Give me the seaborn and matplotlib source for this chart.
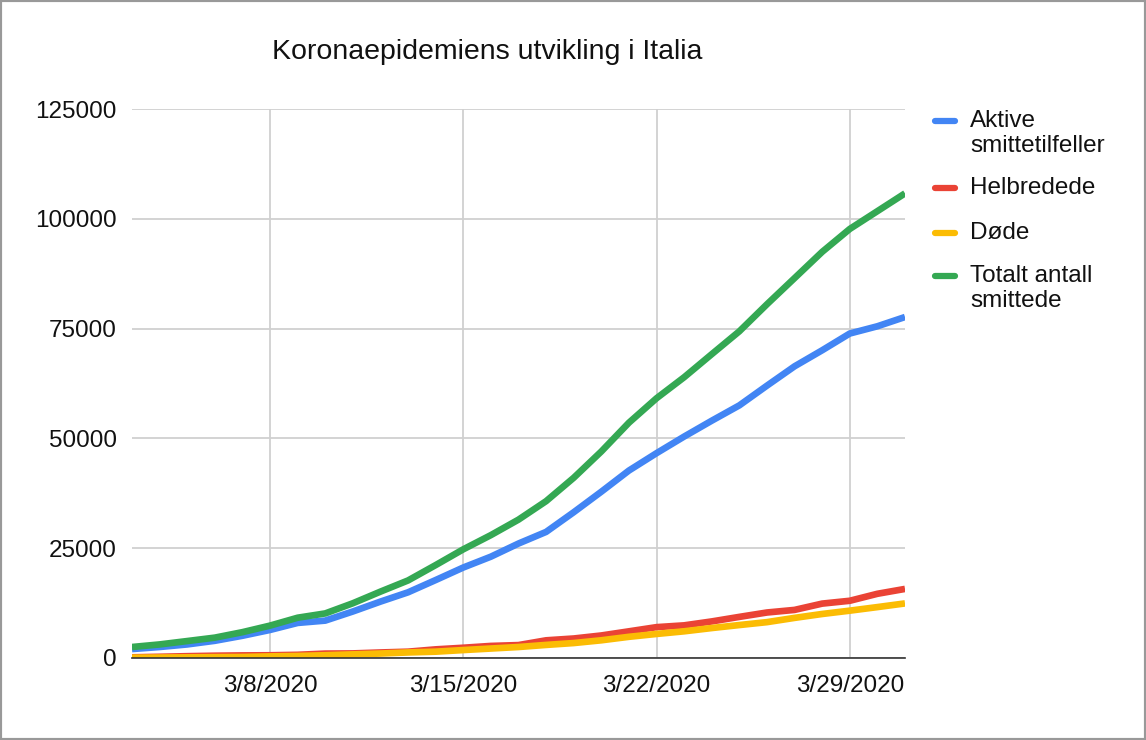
import pandas as pd
import numpy as np
import seaborn as sns
import matplotlib.pyplot as plt
import matplotlib.dates as mdates
from matplotlib.patches import Rectangle

# Data: Italia, 3. - 31. mars 2020
dates = pd.date_range('2020-03-03', '2020-03-31', freq='D')
aktive = [2036, 2502, 3089, 3916, 5061, 6387, 7985, 8514, 10590, 12839,
          14955, 17750, 20603, 23073, 26062, 28710, 33190, 37860, 42681, 46638,
          50418, 54030, 57521, 62013, 66414, 70065, 73880, 75528, 77635]
helbredede = [160, 276, 414, 523, 589, 622, 724, 1004, 1045, 1258,
              1439, 1966, 2335, 2749, 2941, 4025, 4440, 5129, 6072, 7024,
              7432, 8326, 9362, 10361, 10950, 12384, 13030, 14620, 15729]
dode = [79, 107, 148, 197, 233, 366, 463, 631, 827, 1016,
        1266, 1441, 1809, 2158, 2503, 2978, 3405, 4032, 4825, 5476,
        6077, 6820, 7503, 8165, 9134, 10023, 10779, 11591, 12428]
totalt = [2502, 3089, 3858, 4636, 5883, 7375, 9172, 10149, 12462, 15113,
          17660, 21157, 24747, 27980, 31506, 35713, 41035, 47021, 53578, 59138,
          63927, 69176, 74386, 80539, 86498, 92472, 97689, 101739, 105792]

series_names = ['Aktive smittetilfeller', 'Helbredede', 'Døde', 'Totalt antall smittede']
legend_lines = [['Aktive', 'smittetilfeller'], ['Helbredede'], ['Døde'], ['Totalt antall', 'smittede']]
colors = ['#4285F4', '#EA4335', '#FBBC04', '#34A853']

df = pd.DataFrame({'Dato': dates,
                   series_names[0]: aktive,
                   series_names[1]: helbredede,
                   series_names[2]: dode,
                   series_names[3]: totalt})
long_df = df.melt(id_vars='Dato', var_name='Serie', value_name='Antall')

sns.set_style('white')
plt.rcParams['font.family'] = ['Liberation Sans', 'DejaVu Sans']

W, H = 1146, 740
fig = plt.figure(figsize=(W / 100, H / 100), dpi=100)
ax = fig.add_axes([132 / W, 1 - 658 / H, (905 - 132) / W, (658 - 109) / H])

sns.lineplot(data=long_df, x='Dato', y='Antall', hue='Serie',
             hue_order=series_names, palette=colors, linewidth=4.8,
             ax=ax, legend=False, solid_capstyle='butt')

ax.set_xlim(dates[0], dates[-1])
ax.set_ylim(0, 125000)
ax.set_yticks(np.arange(0, 125001, 25000))
ax.set_yticklabels([str(v) for v in range(0, 125001, 25000)])
ax.xaxis.set_major_locator(mdates.DayLocator(bymonthday=[8, 15, 22, 29]))
ax.xaxis.set_major_formatter(mdates.DateFormatter('%-m/%-d/%Y'))
ax.set_xlabel('')
ax.set_ylabel('')
ax.grid(True, color='#d0d0d0', linewidth=1.3)
ax.set_axisbelow(True)
for side in ['top', 'right', 'left']:
    ax.spines[side].set_visible(False)
ax.spines['bottom'].set_color('#333333')
ax.spines['bottom'].set_linewidth(1.2)
ax.tick_params(axis='both', length=0, labelsize=17.5, colors='#111111')
ax.tick_params(axis='x', pad=12)
ax.tick_params(axis='y', pad=11)

fig.text(487 / W, 1 - 52 / H, 'Koronaepidemiens utvikling i Italia', ha='center', va='center',
         fontsize=20.5, color='#111111')

# legend drawn by hand so the swatch sits on the first text line
entry_y = [121, 188, 233, 276]
for color, lines, y in zip(colors, legend_lines, entry_y):
    fig.add_artist(plt.Line2D([935 / W, 955 / W], [1 - y / H, 1 - y / H],
                              color=color, linewidth=4.5, transform=fig.transFigure))
    for i, line in enumerate(lines):
        fig.text(970 / W, 1 - (y + i * 25) / H, line, ha='left', va='center',
                 fontsize=17.5, color='#111111')

fig.patches.append(Rectangle((0, 0), 1, 1, transform=fig.transFigure, fill=False,
                             edgecolor='#999999', linewidth=3))

fig.savefig('out.png', dpi=100)
